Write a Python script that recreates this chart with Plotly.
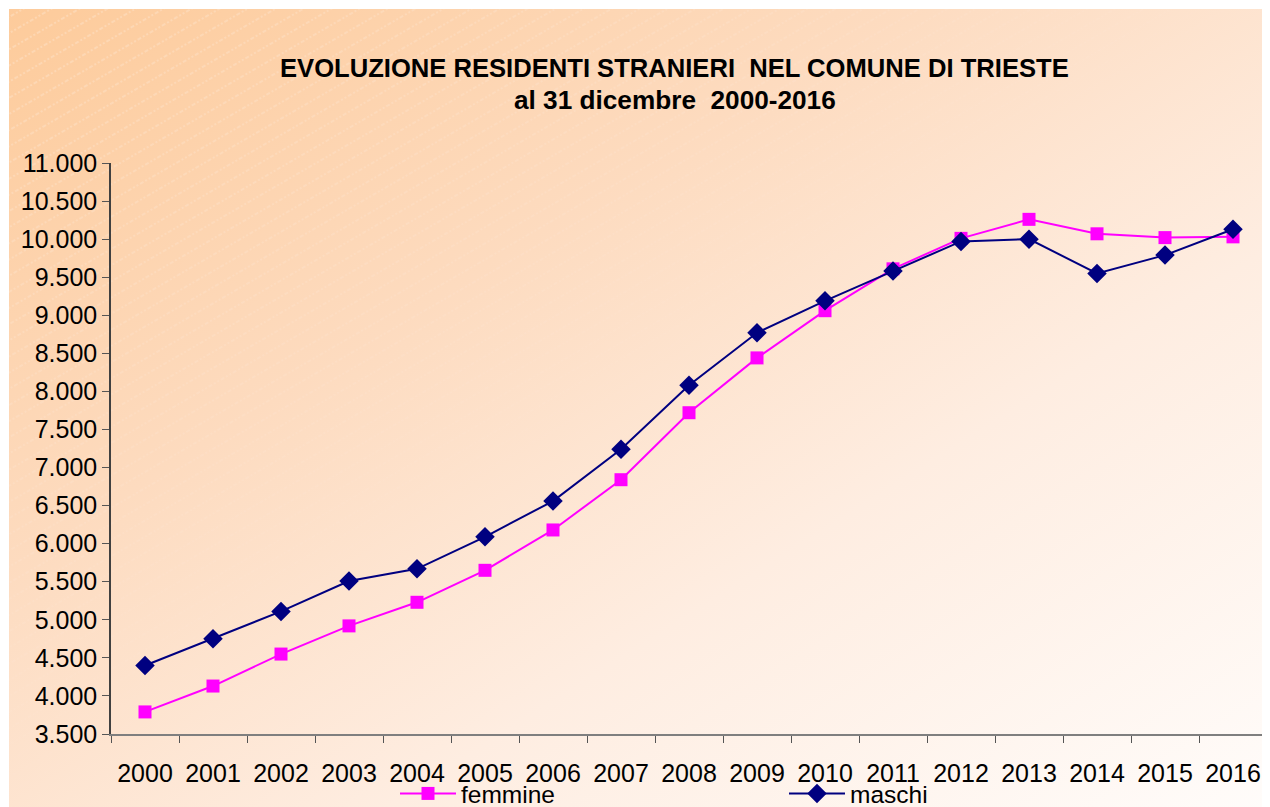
import base64
import plotly.graph_objects as go

years = [str(y) for y in range(2000, 2017)]
femmine = [3790, 4130, 4550, 4920, 5230, 5650, 6180, 6840, 7720, 8440,
           9060, 9610, 10010, 10260, 10070, 10020, 10030]
maschi = [4400, 4750, 5110, 5510, 5670, 6090, 6560, 7240, 8080, 8770,
          9190, 9580, 9970, 10000, 9550, 9790, 10130]
title_1 = "EVOLUZIONE RESIDENTI STRANIERI&nbsp; NEL COMUNE DI TRIESTE"
title_2 = "al 31 dicembre&nbsp; 2000-2016"

OFF = 8  # page body margin
W, H = 1270 - OFF, 807 - OFF
L, R, T, B = 111 - OFF, 1267 - OFF, 163 - OFF, 734 - OFF
pw, ph = R - L, B - T

def px_x(p):  # reference pixel -> paper x
    return (p - OFF - L) / pw

def px_y(p):  # reference pixel -> paper y
    return (B - (p - OFF)) / ph

svg = '''<svg xmlns="http://www.w3.org/2000/svg" width="1261" height="798" viewBox="0 0 1261 798">
<defs>
<linearGradient id="g" x1="0" y1="0" x2="1" y2="1">
<stop offset="0" stop-color="#FDCB9B"/>
<stop offset="0.35" stop-color="#FDDBBF"/>
<stop offset="0.65" stop-color="#FEEDE1"/>
<stop offset="1" stop-color="#FFFCFA"/>
</linearGradient>
<linearGradient id="f" x1="0" y1="0" x2="1" y2="1">
<stop offset="0" stop-color="#fff" stop-opacity="1"/>
<stop offset="0.55" stop-color="#fff" stop-opacity="0"/>
</linearGradient>
<mask id="m"><rect width="1261" height="798" fill="url(#f)"/></mask>
<pattern id="p" width="14" height="14" patternUnits="userSpaceOnUse" patternTransform="rotate(-30)">
<line x1="0" y1="7" x2="14" y2="7" stroke="#ffffff" stroke-width="1" stroke-dasharray="2,2" stroke-opacity="0.45"/>
</pattern>
</defs>
<rect width="1261" height="798" fill="url(#g)"/>
<rect width="1261" height="798" fill="url(#p)" mask="url(#m)"/>
</svg>'''
src = "data:image/svg+xml;base64," + base64.b64encode(svg.encode()).decode()

fig = go.Figure()
fig.add_trace(go.Scatter(
    x=years, y=femmine, name="femmine", mode="lines+markers",
    line=dict(color="#FF00FF", width=2),
    marker=dict(symbol="square", size=13, color="#FF00FF"),
))
fig.add_trace(go.Scatter(
    x=years, y=maschi, name="maschi", mode="lines+markers",
    line=dict(color="#000080", width=2),
    marker=dict(symbol="diamond", size=15, color="#000080"),
))

fig.add_layout_image(dict(
    source=src, xref="paper", yref="paper",
    x=px_x(9), y=px_y(9),
    sizex=(1270 - 9) / pw, sizey=(807 - 9) / ph,
    xanchor="left", yanchor="top", sizing="stretch", layer="below",
))

fig.add_annotation(text="<b>" + title_1 + "</b>", xref="paper", yref="paper",
                   x=px_x(674), y=px_y(68), xanchor="center", yanchor="middle",
                   showarrow=False, font=dict(size=25.6, color="black"))
fig.add_annotation(text="<b>" + title_2 + "</b>", xref="paper", yref="paper",
                   x=px_x(675), y=px_y(100), xanchor="center", yanchor="middle",
                   showarrow=False, font=dict(size=26.2, color="black"))

fig.update_layout(
    width=W, height=H,
    margin=dict(l=L, r=W - R, t=T, b=H - B, autoexpand=False),
    paper_bgcolor="white", plot_bgcolor="rgba(0,0,0,0)",
    separators=",.",
    font=dict(family="Liberation Sans, Arial, sans-serif", size=25, color="black"),
    showlegend=True,
    legend=dict(
        orientation="h", x=px_x(395), xanchor="left",
        y=px_y(771), yanchor="top",
        entrywidth=318, entrywidthmode="pixels",
        bgcolor="rgba(0,0,0,0)", font=dict(size=24.5),
        itemwidth=56, borderwidth=0,
    ),
    xaxis=dict(
        type="category", range=[-0.5, 16.5], tickson="boundaries",
        ticks="outside", ticklen=7,
        tickcolor="#555555", showline=True, linecolor="#7F7F7F", linewidth=2,
        showgrid=False, zeroline=False, ticklabelstandoff=16,
        tickfont=dict(size=25), automargin=False,
    ),
    yaxis=dict(
        range=[3500, 11000], dtick=500, tickformat=",d", ticks="outside",
        ticklen=7, tickcolor="#555555", showline=True, linecolor="#404040",
        linewidth=1.5, showgrid=False, zeroline=False,
        tickfont=dict(size=25), automargin=False,
    ),
)

fig.write_html("out.html")
